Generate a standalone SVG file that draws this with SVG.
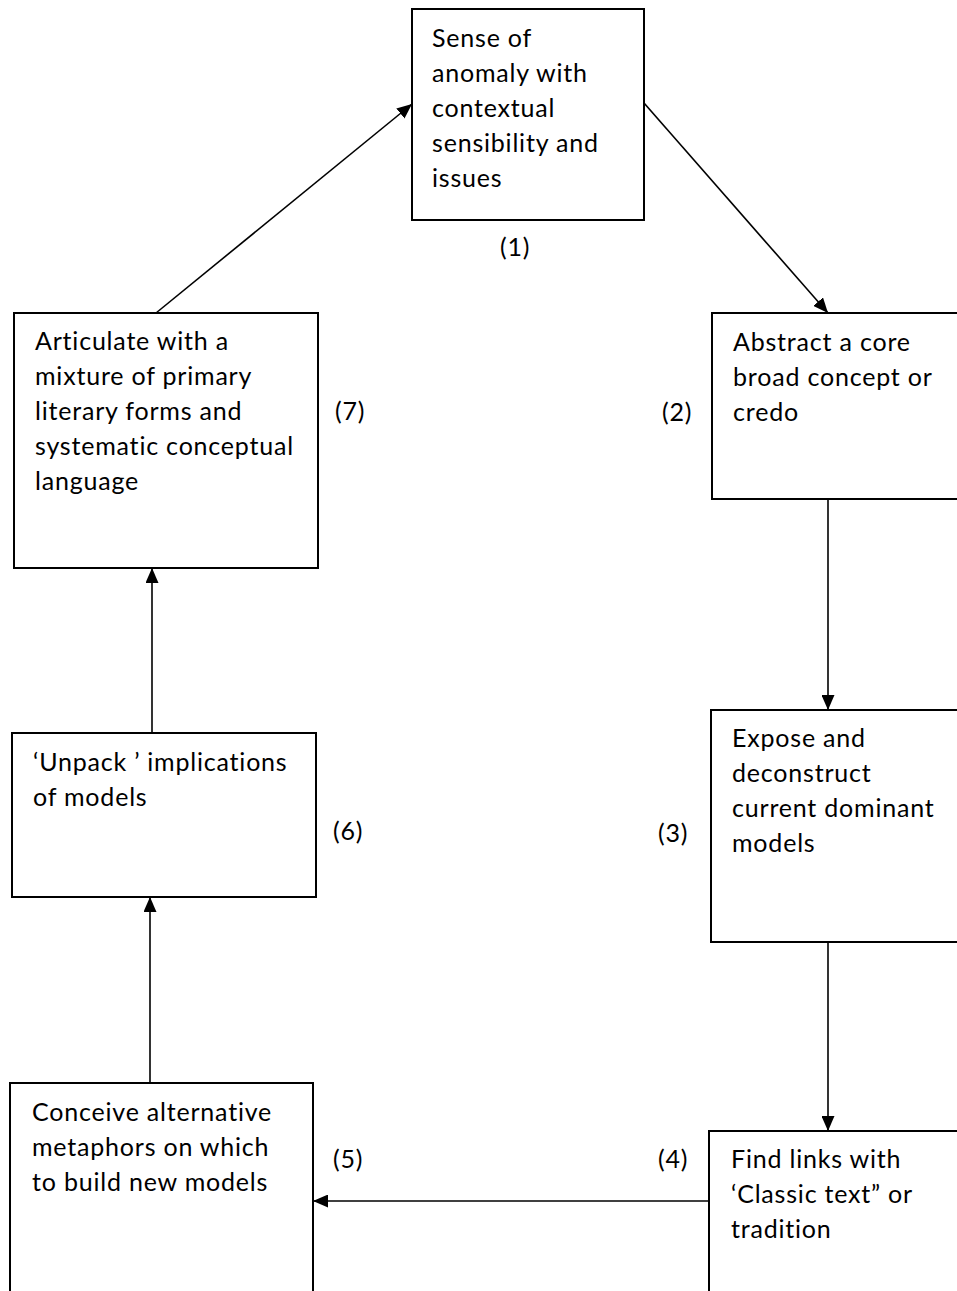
<svg xmlns="http://www.w3.org/2000/svg" width="957" height="1291" viewBox="0 0 957 1291">
  <style>
    .box { fill: #ffffff; stroke: #000000; stroke-width: 2; }
    .label { font-family: Lato, "Open Sans", "Liberation Sans", sans-serif; font-size: 25px; letter-spacing: 0.8px; fill: #000000; }
    .link { stroke: #000000; stroke-width: 1.6; fill: none; marker-end: url(#arrow); }
  </style>
  <defs>
    <marker id="arrow" markerWidth="15" markerHeight="13" refX="15" refY="6.5" orient="auto" markerUnits="userSpaceOnUse">
      <path d="M0,0 L15,6.5 L0,13 Z" fill="#000000"/>
    </marker>
  </defs>
  <rect width="957" height="1291" fill="#ffffff"/>

  <!-- connectors -->
  <g id="connectors">
    <line class="link" x1="644" y1="103" x2="828" y2="313"/>
    <line class="link" x1="828" y1="499" x2="828" y2="710"/>
    <line class="link" x1="828" y1="942" x2="828" y2="1131"/>
    <line class="link" x1="709" y1="1201" x2="313" y2="1201"/>
    <line class="link" x1="150" y1="1083" x2="150" y2="897"/>
    <line class="link" x1="152" y1="733" x2="152" y2="568"/>
    <line class="link" x1="156" y1="313" x2="412" y2="104"/>
  </g>

  <!-- step 1 -->
  <g id="node1">
    <rect class="box" x="412" y="9" width="232" height="211"/>
    <text class="label" x="432" y="47">Sense of</text>
    <text class="label" x="432" y="82">anomaly with</text>
    <text class="label" x="432" y="117">contextual</text>
    <text class="label" x="432" y="152">sensibility and</text>
    <text class="label" x="432" y="187">issues</text>
    <text class="label" x="500" y="256">(1)</text>
  </g>

  <!-- step 2 -->
  <g id="node2">
    <rect class="box" x="712" y="313" width="260" height="186"/>
    <text class="label" x="733" y="351">Abstract a core</text>
    <text class="label" x="733" y="386">broad concept or</text>
    <text class="label" x="733" y="421">credo</text>
    <text class="label" x="662" y="421">(2)</text>
  </g>

  <!-- step 3 -->
  <g id="node3">
    <rect class="box" x="711" y="710" width="260" height="232"/>
    <text class="label" x="732" y="747">Expose and</text>
    <text class="label" x="732" y="782">deconstruct</text>
    <text class="label" x="732" y="817">current dominant</text>
    <text class="label" x="732" y="852">models</text>
    <text class="label" x="658" y="842">(3)</text>
  </g>

  <!-- step 4 -->
  <g id="node4">
    <rect class="box" x="709" y="1131" width="260" height="180"/>
    <text class="label" x="731" y="1168">Find links with</text>
    <text class="label" x="731" y="1203">‘Classic text” or</text>
    <text class="label" x="731" y="1238">tradition</text>
    <text class="label" x="658" y="1168">(4)</text>
  </g>

  <!-- step 5 -->
  <g id="node5">
    <rect class="box" x="10" y="1083" width="303" height="230"/>
    <text class="label" x="32" y="1121">Conceive alternative</text>
    <text class="label" x="32" y="1156">metaphors on which</text>
    <text class="label" x="32" y="1191">to build new models</text>
    <text class="label" x="333" y="1168">(5)</text>
  </g>

  <!-- step 6 -->
  <g id="node6">
    <rect class="box" x="12" y="733" width="304" height="164"/>
    <text class="label" x="33" y="771">‘Unpack ’ implications</text>
    <text class="label" x="33" y="806">of models</text>
    <text class="label" x="333" y="840">(6)</text>
  </g>

  <!-- step 7 -->
  <g id="node7">
    <rect class="box" x="14" y="313" width="304" height="255"/>
    <text class="label" x="35" y="350">Articulate with a</text>
    <text class="label" x="35" y="385">mixture of primary</text>
    <text class="label" x="35" y="420">literary forms and</text>
    <text class="label" x="35" y="455">systematic conceptual</text>
    <text class="label" x="35" y="490">language</text>
    <text class="label" x="335" y="420">(7)</text>
  </g>
</svg>
